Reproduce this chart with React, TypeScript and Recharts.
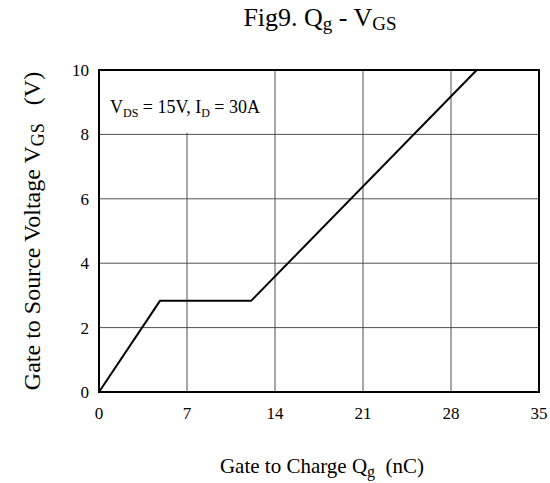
import React from "react";
import {
  LineChart,
  Line,
  XAxis,
  YAxis,
  CartesianGrid,
  ReferenceArea,
} from "recharts";

// gate charge curve
const qg = [0, 4.85, 12.1, 30.05];
const vgs = [0, 2.83, 2.83, 10];
const xTicks = [0, 7, 14, 21, 28, 35];
const yTicks = [0, 2, 4, 6, 8, 10];

const data = qg.map((q, i) => ({ qg: q, vgs: vgs[i] }));

const serif = "'Liberation Serif', 'Times New Roman', serif";
const tickStyle = { fill: "#000", fontSize: 17, fontFamily: serif };

export default function App() {
  return (
    <div style={{ position: "absolute", left: 0, top: 0, width: 550, height: 483, background: "#fff" }}>
      <LineChart
        width={550}
        height={483}
        data={data}
        margin={{ top: 70, right: 11, bottom: 61, left: 59 }}
      >
        <CartesianGrid stroke="#505050" strokeWidth={1} />
        <XAxis
          dataKey="qg"
          type="number"
          domain={[0, 35]}
          ticks={xTicks}
          interval={0}
          height={30}
          tickLine={false}
          axisLine={false}
          tickMargin={9}
          tick={tickStyle}
        />
        <YAxis
          type="number"
          domain={[0, 10]}
          ticks={yTicks}
          interval={0}
          width={40}
          tickLine={false}
          axisLine={false}
          tickMargin={4}
          tick={tickStyle}
        />
        {/* blank box behind the test condition note */}
        <ReferenceArea x1={0} x2={13.85} y1={8.05} y2={10} fill="#fff" fillOpacity={1} stroke="none" />
        <Line
          type="linear"
          dataKey="vgs"
          stroke="#000"
          strokeWidth={2}
          dot={false}
          isAnimationActive={false}
        />
        <ReferenceArea x1={0} x2={35} y1={0} y2={10} fill="none" fillOpacity={0} stroke="#000" strokeWidth={2} />
      </LineChart>
      <svg
        width={550}
        height={483}
        style={{ position: "absolute", left: 0, top: 0, pointerEvents: "none" }}
        fontFamily={serif}
        fill="#000"
      >
        <text x={320} y={26} fontSize={26} textAnchor="middle">
          Fig9. Q
          <tspan fontSize={19} dy={4}>g</tspan>
          <tspan dy={-4}> - V</tspan>
          <tspan fontSize={19} dy={4}>GS</tspan>
        </text>
        <text x={110} y={113} fontSize={18}>
          V
          <tspan fontSize={12} dy={4}>DS</tspan>
          <tspan dy={-4}> = 15V, I</tspan>
          <tspan fontSize={12} dy={4}>D</tspan>
          <tspan dy={-4}> = 30A</tspan>
        </text>
        <text x={322} y={473} fontSize={21} textAnchor="middle">
          Gate to Charge Q
          <tspan fontSize={16} dy={4}>g</tspan>
          <tspan dy={-4} xmlSpace="preserve">{"  (nC)"}</tspan>
        </text>
        <text x={40} y={231} fontSize={24} textAnchor="middle" transform="rotate(-90 40 231)">
          Gate to Source Voltage V
          <tspan fontSize={18} dy={4}>GS</tspan>
          <tspan dy={-4} xmlSpace="preserve">{"   (V)"}</tspan>
        </text>
      </svg>
    </div>
  );
}
